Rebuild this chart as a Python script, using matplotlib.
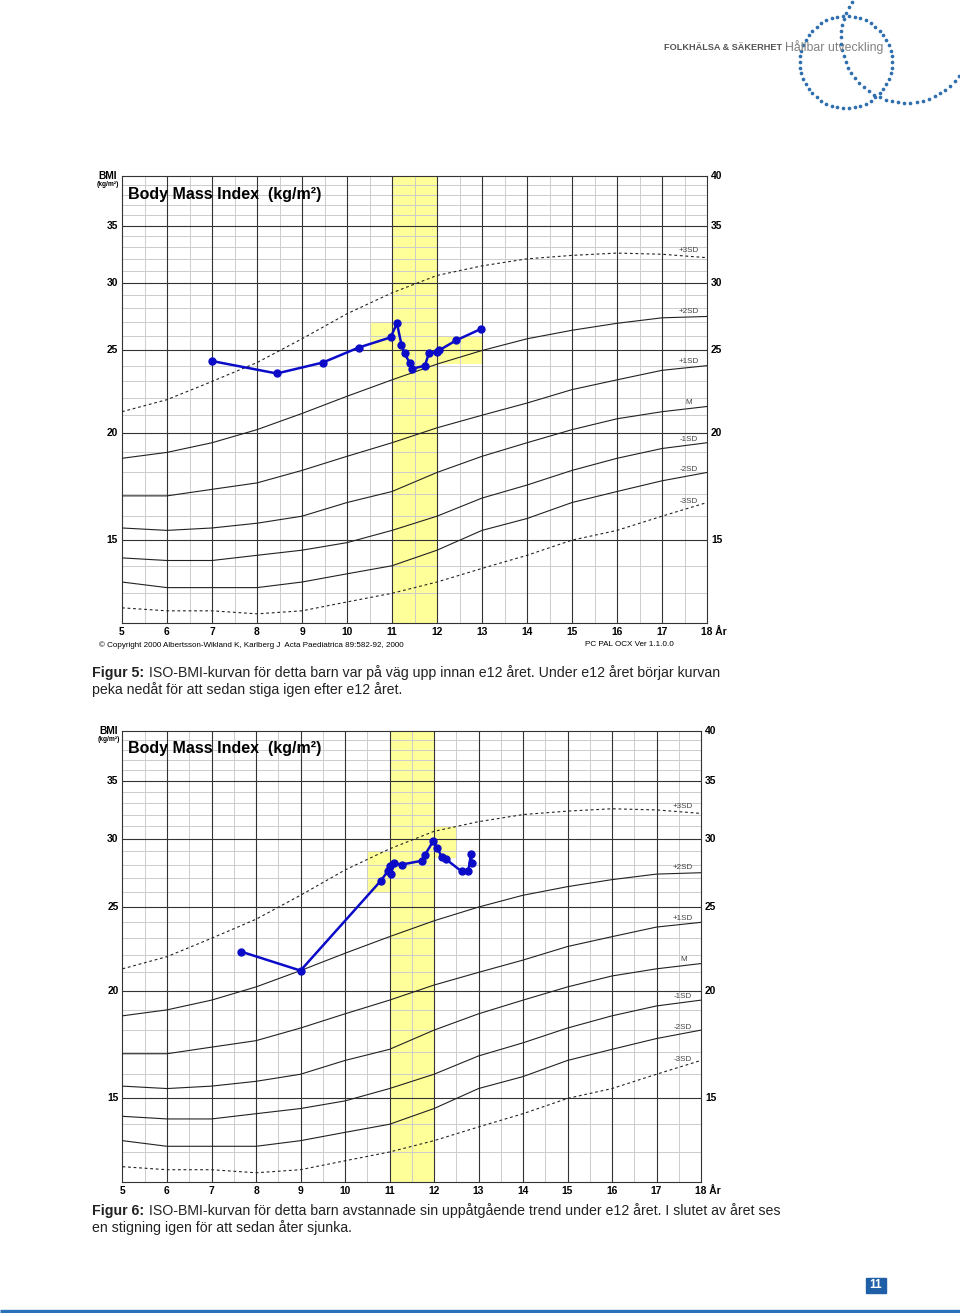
import numpy as np
import matplotlib
matplotlib.use('Agg')
import matplotlib.pyplot as plt
from matplotlib.patches import Rectangle
from matplotlib.ticker import NullLocator

# reference curves (ISO-BMI), read at whole years
ref_ages = [5, 6, 7, 8, 9, 10, 11, 12, 13, 14, 15, 16, 17, 18]
sd3p = [21.2, 21.9, 23.0, 24.2, 25.8, 27.6, 29.2, 30.6, 31.4, 32.0, 32.3, 32.5, 32.4, 32.1]
sd2p = [18.7, 19.0, 19.5, 20.2, 21.1, 22.1, 23.1, 24.1, 25.0, 25.8, 26.4, 26.9, 27.3, 27.4]
sd1p = [16.9, 16.9, 17.2, 17.5, 18.1, 18.8, 19.5, 20.3, 21.0, 21.7, 22.5, 23.1, 23.7, 24.0]
median = [15.5, 15.4, 15.5, 15.7, 16.0, 16.6, 17.1, 18.0, 18.8, 19.5, 20.2, 20.8, 21.2, 21.5]
sd1m = [14.3, 14.2, 14.2, 14.4, 14.6, 14.9, 15.4, 16.0, 16.8, 17.4, 18.1, 18.7, 19.2, 19.5]
sd2m = [13.4, 13.2, 13.2, 13.2, 13.4, 13.7, 14.0, 14.6, 15.4, 15.9, 16.6, 17.1, 17.6, 18.0]
sd3m = [12.5, 12.4, 12.4, 12.3, 12.4, 12.7, 13.0, 13.4, 13.9, 14.4, 15.0, 15.4, 16.0, 16.6]
sd_names = ['+3SD', '+2SD', '+1SD', 'M', '-1SD', '-2SD', '-3SD']

# child in figur 5
f5_age = [7.0, 8.44, 9.46, 10.26, 10.97, 11.11, 11.21, 11.28, 11.39, 11.45, 11.73, 11.82, 12.0, 12.04, 12.43, 12.98]
f5_bmi = [24.3, 23.5, 24.2, 25.2, 25.9, 26.9, 25.4, 24.8, 24.2, 23.8, 24.0, 24.8, 24.9, 25.0, 25.7, 26.5]
f5_boxes = [(10.5, 11, 25.0, 27.0), (12, 13, 24.1, 26.0)]

# child in figur 6
f6_age = [7.66, 9.0, 10.80, 10.96, 11.0, 11.03, 11.10, 11.27, 11.74, 11.79, 11.98, 12.07, 12.17, 12.27, 12.62, 12.77, 12.83, 12.85]
f6_bmi = [22.2, 21.1, 26.8, 27.5, 27.9, 27.3, 28.1, 28.0, 28.3, 28.7, 29.8, 29.3, 28.6, 28.4, 27.5, 27.5, 28.8, 28.1]
f6_boxes = [(10.5, 11, 26.0, 29.0), (12, 12.5, 28.5, 31.0)]

W, H = 960, 1313
YELLOW = '#ffff99'
BLUE = '#2f6fae'
FONT = 'Liberation Sans'

fig = plt.figure(figsize=(9.6, 13.13), dpi=100)

# page decoration in pixel coordinates
bg = fig.add_axes([0, 0, 1, 1])
bg.set_xlim(0, W)
bg.set_ylim(H, 0)
bg.axis('off')

t = np.linspace(0, 2 * np.pi, 50, endpoint=False)
bg.scatter(846 + 46 * np.cos(t), 62 + 46 * np.sin(t), s=7, color=BLUE, lw=0)
t = np.radians(np.linspace(36, 214, 33))
bg.scatter(906 + 65 * np.cos(t), 38 + 65 * np.sin(t), s=7, color=BLUE, lw=0)

bg.text(664, 47, 'FOLKHÄLSA & SÄKERHET', family=FONT, weight='bold',
        fontsize=6.6, color='#555555', va='center')
bg.text(785, 47, 'Hållbar utveckling', family=FONT, fontsize=8.9, color='#808080', va='center')

bg.plot([0, W], [1310.5, 1310.5], color='#2a72b8', lw=2.4, solid_capstyle='butt')
bg.add_patch(Rectangle((866, 1278), 20, 15, color='#1f5fa8'))
bg.text(876, 1285.5, '11', color='white', weight='bold', family=FONT, fontsize=8.5, ha='center', va='center')


def px_axes(x0, y0, x1, y1):
    return fig.add_axes([x0 / W, 1 - y1 / H, (x1 - x0) / W, (y1 - y0) / H])


def bmi_chart(ax, ages, bmis, boxes):
    ax.set_yscale('log')
    ax.set_xlim(5, 18)
    ax.set_ylim(12, 40)
    ax.yaxis.set_major_locator(NullLocator())
    ax.yaxis.set_minor_locator(NullLocator())
    ax.set_xticks([])
    for s in ax.spines.values():
        s.set_color('#333333')
        s.set_linewidth(0.8)

    ax.axvspan(11, 12, color=YELLOW, lw=0, zorder=0)
    for a0, a1, b0, b1 in boxes:
        ax.fill_between([a0, a1], b0, b1, color=YELLOW, lw=0, zorder=0)

    for v in range(13, 40):
        if v % 5:
            ax.axhline(v, color='#cccccc', lw=0.7, zorder=1)
    for a in np.arange(5.5, 18, 1.0):
        ax.axvline(a, color='#cccccc', lw=0.7, zorder=1)
    for v in range(15, 40, 5):
        ax.axhline(v, color='#333333', lw=0.8, zorder=2)
    for a in range(6, 18):
        ax.axvline(a, color='#333333', lw=0.8, zorder=2)

    curves = [sd3p, sd2p, sd1p, median, sd1m, sd2m, sd3m]
    for name, vals in zip(sd_names, curves):
        ls = (0, (2.5, 2.5)) if '3' in name else '-'
        ax.plot(ref_ages, vals, color='#222222', lw=0.8, ls=ls, zorder=3)
        ax.annotate(name, xy=(17.6, np.interp(17.6, ref_ages, vals)), xytext=(0, 6),
                    textcoords='offset pixels', ha='center', va='center',
                    fontsize=5.8, color='#444444', family=FONT, zorder=4)

    ax.plot(ages, bmis, color='#0c0cc8', lw=1.8, marker='o', ms=5, zorder=5)

    ax.annotate('Body Mass Index  (kg/m²)', xy=(0, 1), xycoords='axes fraction', xytext=(6, -18),
                textcoords='offset pixels', ha='left', va='center', fontsize=11.5,
                weight='bold', family=FONT, zorder=6)

    lab = dict(textcoords='offset pixels', va='center', fontsize=7.4, weight='bold', family=FONT)
    for v in range(15, 40, 5):
        ax.annotate(str(v), xy=(0, v), xycoords=('axes fraction', 'data'), xytext=(-4, 0), ha='right', **lab)
    for v in range(15, 45, 5):
        ax.annotate(str(v), xy=(1, v), xycoords=('axes fraction', 'data'), xytext=(4, 0), ha='left', **lab)
    for a in range(5, 18):
        ax.annotate(str(a), xy=(a, 0), xycoords=('data', 'axes fraction'), xytext=(0, -9), ha='center', **lab)
    ax.annotate('18 År', xy=(18, 0), xycoords=('data', 'axes fraction'), xytext=(-6, -9), ha='left', **lab)
    ax.annotate('BMI', xy=(0, 1), xycoords='axes fraction', xytext=(-14, 0), ha='center', **lab)
    ax.annotate('(kg/m²)', xy=(0, 1), xycoords='axes fraction', xytext=(-14, -9),
                textcoords='offset pixels', ha='center', va='center', fontsize=4.8,
                weight='bold', family=FONT)


ax1 = px_axes(122, 176, 707, 623)
bmi_chart(ax1, f5_age, f5_bmi, f5_boxes)
ax2 = px_axes(122.5, 731, 701, 1182)
bmi_chart(ax2, f6_age, f6_bmi, f6_boxes)

bg.text(99, 645, '© Copyright 2000 Albertsson-Wikland K, Karlberg J  Acta Paediatrica 89:582-92, 2000',
        family=FONT, fontsize=5.8, va='center')
bg.text(585, 645, 'PC PAL OCX Ver 1.1.0.0', family=FONT, fontsize=5.9, va='center')

cap = dict(family=FONT, fontsize=10.2, va='center', color='#222222')
bg.text(92, 673, 'Figur 5:', weight='bold', **cap)
bg.text(149, 673, 'ISO-BMI-kurvan för detta barn var på väg upp innan e12 året. Under e12 året börjar kurvan', **cap)
bg.text(92, 690, 'peka nedåt för att sedan stiga igen efter e12 året.', **cap)
bg.text(92, 1211, 'Figur 6:', weight='bold', **cap)
bg.text(149, 1211, 'ISO-BMI-kurvan för detta barn avstannade sin uppåtgående trend under e12 året. I slutet av året ses', **cap)
bg.text(92, 1228, 'en stigning igen för att sedan åter sjunka.', **cap)

fig.savefig('out.png', dpi=100)
